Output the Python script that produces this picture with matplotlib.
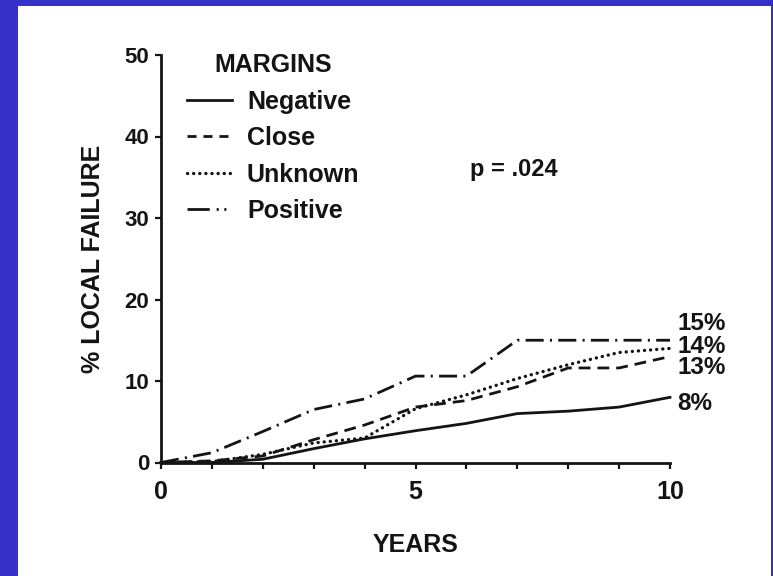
import matplotlib
matplotlib.use("Agg")
import matplotlib.pyplot as plt
from matplotlib.lines import Line2D
from matplotlib.patches import Rectangle

# local failure by margin status, yearly estimates
years = [0, 1, 2, 3, 4, 5, 6, 7, 8, 9, 10]
negative = [0, 0, 0.4, 1.7, 2.9, 3.9, 4.8, 6.0, 6.3, 6.8, 8]
close = [0, 0.2, 0.8, 2.8, 4.6, 6.8, 7.6, 9.3, 11.6, 11.6, 13]
unknown = [0, 0.1, 1.0, 2.4, 3.0, 6.6, 8.3, 10.3, 12.0, 13.5, 14]
positive = [0, 1.2, 3.8, 6.5, 7.8, 10.6, 10.6, 15, 15, 15, 15]

series_names = ["Negative", "Close", "Unknown", "Positive"]
end_labels = ["8%", "13%", "14%", "15%"]
p_text = "p = .024"

plt.rcParams["font.family"] = ["Liberation Sans", "DejaVu Sans"]
plt.rcParams["font.weight"] = "bold"
plt.rcParams["lines.scale_dashes"] = False

ink = "#141414"
blue = "#3430c8"

fig = plt.figure(figsize=(7.73, 5.76), dpi=100, facecolor=blue)
fig.patches.append(Rectangle((18 / 773, 0), 753 / 773, 570 / 576,
                             transform=fig.transFigure, facecolor="white",
                             edgecolor="none", zorder=-10))

ax = fig.add_axes([161 / 773, 1 - 462.5 / 576, 509 / 773, 407.5 / 576])
ax.set_facecolor("none")
ax.set_zorder(5)

dots = dict(linestyle=(0, (0.1, 4.3)), dash_capstyle="round")
styles = [
    dict(linestyle="-"),
    dict(linestyle=(0, (8.5, 5))),
    dots,
    dict(linestyle=(0, (13, 4.5, 1.5, 4.5))),
]
widths = [2.0, 2.0, 2.4, 2.0]
data = [negative, close, unknown, positive]
for vals, st, w in zip(data, styles, widths):
    ax.plot(years, vals, color=ink, lw=w, clip_on=False, **st)

# percentages at the right end of each curve
label_shift = [-0.7, -1.4, 0.2, 2.1]
for vals, lab, dy in zip(data, end_labels, label_shift):
    ax.text(10.14, vals[-1] + dy, lab, fontsize=17.5, color=ink,
            ha="left", va="center", clip_on=False)

ax.text(6.07, 35.9, p_text, fontsize=17, color=ink, ha="left", va="center")

# legend handles
handle_styles = [
    dict(linestyle="-"),
    dict(linestyle=(0, (6.5, 5))),
    dots,
    dict(linestyle=(0, (16, 5, 1.5, 4, 1.5, 10))),
]
handles = [Line2D([], [], color=ink, lw=w, **st)
           for st, w in zip(handle_styles, widths)]
leg = ax.legend(handles, series_names, title="MARGINS", frameon=False,
                loc="upper left", bbox_to_anchor=(26 / 509, 1.0046),
                borderpad=0, borderaxespad=0, fontsize=18, title_fontsize=18,
                handlelength=1.8, handletextpad=0.6, labelspacing=0.5)
for t in leg.get_texts():
    t.set_color(ink)
leg.get_title().set_color(ink)
leg.get_title().set_fontweight("bold")

ax.set_xlim(0, 10)
ax.set_ylim(0, 50)
ax.spines["top"].set_visible(False)
ax.spines["right"].set_visible(False)
for s in ["left", "bottom"]:
    ax.spines[s].set_linewidth(2.0)
    ax.spines[s].set_color(ink)

ax.set_xticks([0, 5, 10])
ax.set_xticks(range(11), minor=True)
ax.set_yticks(range(0, 51, 10))
ax.tick_params(axis="x", which="both", direction="out", length=4.5,
               width=1.6, color=ink, labelsize=18, labelcolor=ink, pad=8)
ax.tick_params(axis="y", direction="out", length=4.5, width=1.6,
               color=ink, labelsize=16, labelcolor=ink, pad=4)

ax.set_xlabel("YEARS", fontsize=18, color=ink, fontweight="bold")
ax.set_ylabel("% LOCAL FAILURE", fontsize=18, color=ink, fontweight="bold")
ax.xaxis.set_label_coords(0.5, -0.172)
ax.yaxis.set_label_coords(-0.11, 0.5)

fig.savefig("out.png", dpi=100, facecolor=blue)
